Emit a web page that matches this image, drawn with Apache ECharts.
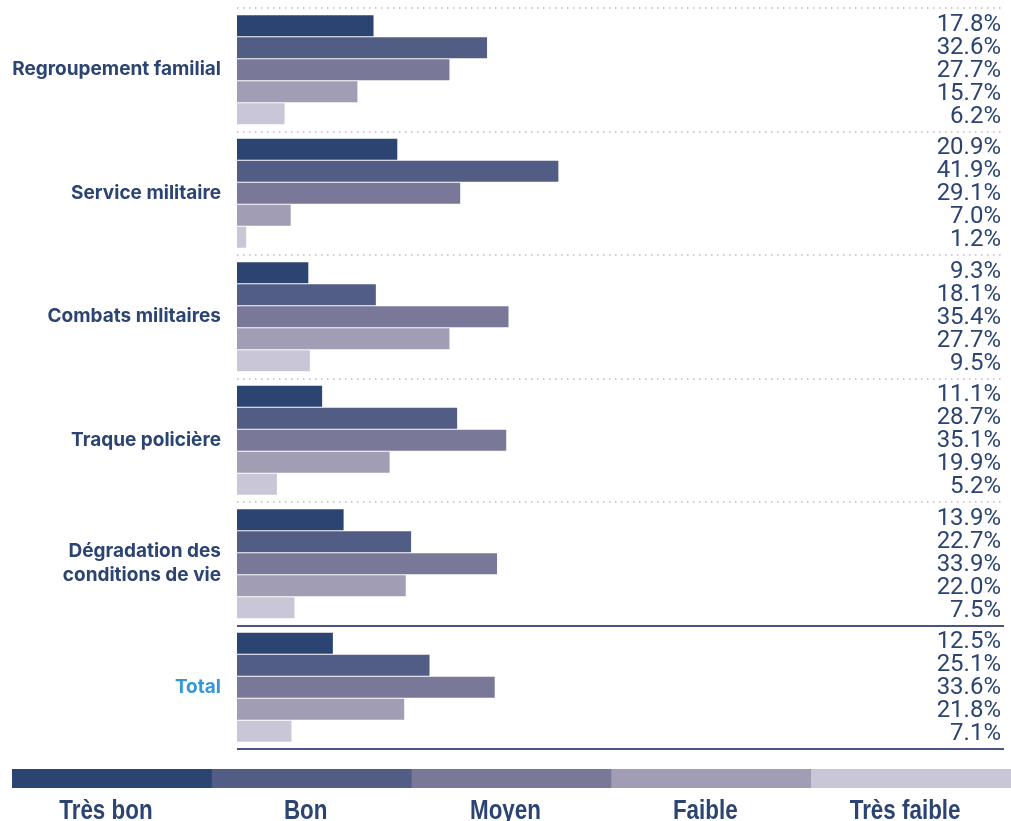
<!DOCTYPE html>
<html>
<head>
<meta charset="utf-8">
<script src="https://cdn.jsdelivr.net/npm/echarts@6/dist/echarts.min.js"></script>
<style>
  html, body { margin: 0; padding: 0; background: #ffffff; }
  #chart { width: 1011px; height: 821px; }
</style>
</head>
<body>
<div id="chart"></div>
<script>
// Categories (top to bottom) and the five rating levels
const categories = [
  'Regroupement familial',
  'Service militaire',
  'Combats militaires',
  'Traque policière',
  'Dégradation des\nconditions de vie',
  'Total'
];
const levels = ['Très bon', 'Bon', 'Moyen', 'Faible', 'Très faible'];

// Share of respondents (%) per level, one value per category
const tresBon    = [17.8, 20.9,  9.3, 11.1, 13.9, 12.5];
const bon        = [32.6, 41.9, 18.1, 28.7, 22.7, 25.1];
const moyen      = [27.7, 29.1, 35.4, 35.1, 33.9, 33.6];
const faible     = [15.7,  7.0, 27.7, 19.9, 22.0, 21.8];
const tresFaible = [ 6.2,  1.2,  9.5,  5.2,  7.5,  7.1];

const seriesValues = [tresBon, bon, moyen, faible, tresFaible];
const colors = ['#2b4472', '#525d86', '#7a7899', '#a09db5', '#c9c7d7'];
const TEXT = '#2b4472';
const TOTAL_COLOR = '#3498d8';

const BAR_W = 21;
const BAR_GAP = 1;
const LABEL_PITCH = 23;
const X_MAX = 100;

const chart = echarts.init(document.getElementById('chart'), null, { renderer: 'canvas' });

const barSeries = seriesValues.map((vals, i) => ({
  name: levels[i],
  type: 'bar',
  yAxisIndex: 0,
  data: vals,
  barWidth: BAR_W,
  barGap: (BAR_GAP / BAR_W * 100) + '%',
  itemStyle: { color: colors[i] },
  silent: true
}));

// Value labels sit at the right edge of the plot, stacked around the group centre
const labelData = [];
categories.forEach((c, ci) => {
  seriesValues.forEach((vals, si) => {
    labelData.push([X_MAX, ci, si, vals[ci]]);
  });
});

const labelSeries = {
  type: 'custom',
  yAxisIndex: 0,
  silent: true,
  encode: { x: 0, y: 1 },
  data: labelData,
  renderItem: function (params, api) {
    const pt = api.coord([api.value(0), api.value(1)]);
    const s = api.value(2);
    return {
      type: 'text',
      style: {
        text: api.value(3).toFixed(1) + '%',
        x: pt[0] - 3,
        y: pt[1] + (s - 2) * LABEL_PITCH + 1,
        align: 'right',
        verticalAlign: 'middle',
        fontFamily: 'Roboto',
        fontSize: 24,
        fill: TEXT
      }
    };
  }
};

const dotColor = '#b9b6cf';
const solidColor = '#4b5584';
const none = 'rgba(0,0,0,0)';

// Legend: a full-width strip of colour blocks with the level names beneath
const legendLeft = 12;
const legendRight = 1011;
const segW = (legendRight - legendLeft) / levels.length;
const graphics = [];
levels.forEach((name, i) => {
  graphics.push({
    type: 'rect',
    left: legendLeft + i * segW,
    top: 769,
    shape: { width: segW + 0.5, height: 19 },
    style: { fill: colors[i] },
    silent: true
  });
  graphics.push({
    type: 'text',
    x: legendLeft + i * segW + segW / 2 - 6,
    y: 797,
    scaleX: 0.8,
    style: {
      text: name,
      align: 'center',
      verticalAlign: 'top',
      fontFamily: 'Liberation Sans',
      fontWeight: 'bold',
      fontSize: 28,
      fill: TEXT
    },
    silent: true
  });
});

chart.setOption({
  animation: false,
  backgroundColor: '#ffffff',
  grid: { left: 237, right: 7, top: 8, bottom: 72, containLabel: false },
  xAxis: {
    type: 'value',
    min: 0,
    max: X_MAX,
    show: false
  },
  yAxis: [
    {
      type: 'category',
      data: categories,
      inverse: true,
      axisLine: { show: false },
      axisTick: { show: false },
      axisLabel: {
        margin: 16,
        fontFamily: 'Inter',
        fontWeight: 'bold',
        fontSize: 19,
        lineHeight: 24,
        color: TEXT,
        formatter: function (v) {
          return v === 'Total' ? '{t|' + v + '}' : v;
        },
        rich: {
          t: { color: TOTAL_COLOR, fontFamily: 'Inter', fontWeight: 'bold', fontSize: 19 }
        }
      },
      splitLine: {
        show: true,
        lineStyle: {
          color: [dotColor, dotColor, dotColor, dotColor, dotColor, none, none],
          width: 1.5,
          type: [1.5, 4.5]
        }
      }
    },
    {
      type: 'category',
      data: categories,
      inverse: true,
      axisLine: { show: false },
      axisTick: { show: false },
      axisLabel: { show: false },
      splitLine: {
        show: true,
        lineStyle: {
          color: [none, none, none, none, none, solidColor, solidColor],
          width: 2,
          type: 'solid'
        }
      }
    }
  ],
  series: barSeries.concat([labelSeries]),
  graphic: graphics
});
</script>
</body>
</html>
